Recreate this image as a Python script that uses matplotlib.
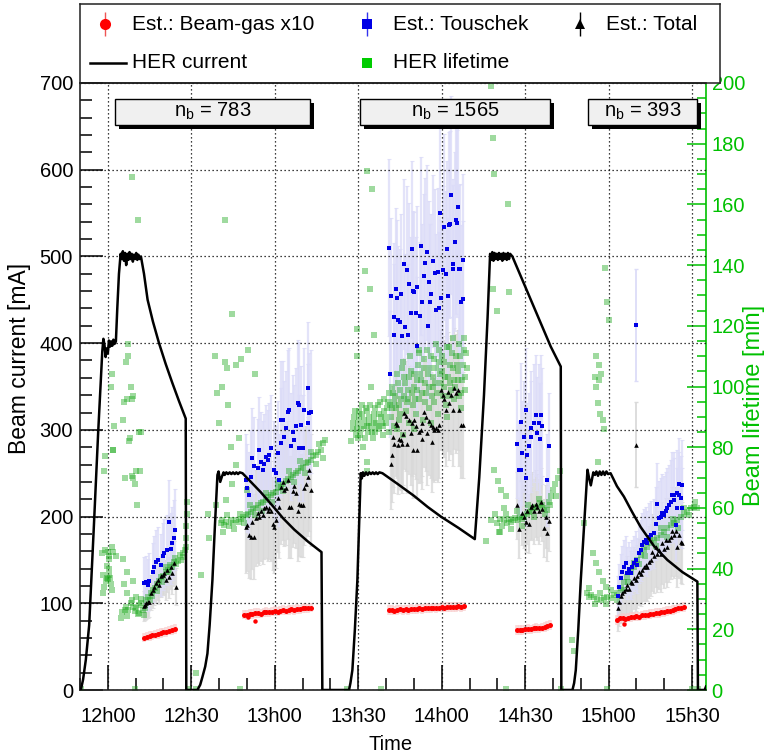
import matplotlib
matplotlib.use("Agg")
import matplotlib.pyplot as plt
from matplotlib.ticker import MultipleLocator, FuncFormatter
from matplotlib.patches import Rectangle
from matplotlib.transforms import Affine2D
import numpy as np

plt.rcParams['font.family'] = ['Liberation Sans', 'DejaVu Sans']
plt.rcParams['mathtext.fontset'] = 'custom'
plt.rcParams['mathtext.rm'] = 'Liberation Sans'
plt.rcParams['mathtext.it'] = 'Liberation Sans:italic'

GREEN = '#00c000'

# time is in minutes after 12h00

# HER beam current [mA]
cur_t = [-9.7, -8.9, -7.9, -6.7, -5.0, -3.5, -2.0, -1.6, -1.2, -0.8, -0.4, 0.0, 0.4, 0.8, 1.2, 1.6, 2.0, 2.4, 2.9,
         3.4, 4.0, 4.6, 5.0, 5.4, 5.8, 6.2, 6.6, 7.0, 7.4, 7.8, 8.2, 8.6, 9.0, 9.4, 9.8, 10.2, 10.6, 11.0, 11.4, 11.9,
         13.0, 14.3, 16.2, 18.4, 20.8, 23.2, 25.6, 28.0, 28.2,
         32.2, 33.2, 34.0, 35.0, 35.8, 36.6, 37.6, 38.5, 39.4, 39.8, 40.4, 41.0, 41.6, 42.0, 42.6, 43.2, 43.8, 44.4,
         45.0, 45.6, 46.2, 46.8, 47.4, 48.4, 52.0, 55.0, 59.6, 63.0, 67.0, 72.0, 76.8, 77.1,
         86.7, 87.2, 87.9, 88.8, 89.7, 90.3, 90.9, 91.3, 91.7, 92.2, 92.8, 93.4, 94.0, 94.6, 95.2, 95.8, 96.4, 97.0,
         97.6, 98.7, 104.0, 110.0, 115.0, 119.7, 126.0, 131.9, 133.5, 135.2, 136.5, 137.4, 137.8, 138.2, 138.6,
         139.0, 139.4, 139.8, 140.2, 140.6, 141.0, 141.4, 141.8, 142.2, 142.6, 143.0, 143.4, 143.8, 144.2, 144.6,
         145.4, 152.3, 159.2, 162.8, 163.0,
         167.0, 167.6, 168.2, 169.1, 170.0, 171.2, 172.4, 173.0, 173.6, 174.5, 175.1, 175.6, 176.2, 176.8, 177.4,
         178.0, 178.6, 179.2, 179.8, 180.7, 183.0, 185.5, 188.5, 191.5, 196.3, 201.1, 206.5, 211.9, 212.1,
         214.5, 215.0]
cur_v = [0, 12, 35, 75, 190, 295, 390, 405, 398, 384, 394, 388, 403, 396, 402, 397, 404, 399, 402,
         440, 480, 503, 497, 506, 495, 504, 490, 503, 496, 505, 497, 503, 494, 502, 497, 504, 496, 502, 497, 500,
         480, 450, 425, 400, 376, 354, 333, 313, 0,
         0, 6, 15, 27, 42, 75, 127, 190, 248, 252, 240, 246, 251, 248, 251, 249, 251, 249,
         251, 249, 251, 249, 251, 250, 238, 228, 211, 198, 185, 171, 159, 0,
         0, 8, 23, 70, 127, 190, 250, 244, 251, 247, 251, 248, 251, 249, 251, 249, 251, 249,
         251, 250, 238, 224, 211, 200, 187, 174, 245, 340, 430, 503, 496, 505, 495,
         504, 497, 503, 496, 504, 497, 503, 495, 504, 497, 503, 496, 504, 497, 503,
         500, 448, 396, 373, 0,
         0, 8, 23, 70, 127, 190, 254, 244, 236, 251, 248, 252, 247, 252, 248,
         252, 248, 252, 249, 250, 235, 223, 205, 188, 166, 150, 136, 125, 0,
         0, 4]

# Estimated beam-gas rate x10 [mA equiv.], one list per fill
bg_t = [
    [13, 14, 15, 16, 17, 18, 19, 20, 21, 22, 23, 24],
    [49, 50, 51, 52, 53, 54, 55, 56, 57, 58, 59, 60, 61, 62, 63, 64, 65, 66, 67, 68, 69, 70, 71, 72, 73],
    [101, 102, 103, 104, 105, 106, 107, 108, 109, 110, 111, 112, 113, 114, 115, 116, 117, 118, 119, 120,
     121, 122, 123, 124, 125, 126, 127, 128],
    [147, 148, 149, 150, 151, 152, 153, 154, 155, 156, 157, 158, 159],
    [183, 184, 185, 186, 187, 188, 189, 190, 191, 192, 193, 194, 195, 196, 197, 198, 199, 200, 201, 202,
     203, 204, 205, 206, 207],
]
bg_v = [
    [60.5, 61.5, 62.0, 63.0, 64.0, 64.5, 65.5, 66.5, 67.0, 68.5, 69.5, 70.5],
    [87.0, 86.5, 88.0, 87.5, 88.5, 89.0, 88.0, 89.5, 90.0, 89.5, 90.5, 91.0, 90.5, 91.5, 92.0, 91.5, 92.5,
     93.0, 92.5, 93.5, 93.0, 94.0, 94.5, 94.0, 95.0],
    [92.0, 92.5, 91.5, 92.0, 93.0, 92.5, 93.0, 92.0, 93.5, 93.0, 93.5, 94.0, 93.5, 94.0, 94.5, 94.0, 95.0,
     94.5, 95.0, 95.5, 95.0, 95.5, 96.0, 95.5, 96.0, 96.5, 96.0, 96.5],
    [69.0, 69.5, 69.0, 70.0, 70.5, 70.0, 71.0, 71.5, 71.0, 72.0, 72.5, 73.5, 75.0],
    [81.0, 82.5, 83.0, 82.0, 83.5, 84.0, 84.5, 85.0, 84.5, 86.0, 86.5, 87.0, 87.5, 88.0, 88.5, 89.0, 89.5,
     90.0, 91.0, 91.5, 92.0, 93.0, 94.0, 95.0, 96.0],
]
bg_outlier_t = [50.5, 52.8, 185.5]
bg_outlier_v = [84, 79, 76]
bg_err = 5.5

# Estimated Touschek contribution
tou_t = [
    [12.9, 13.7, 14.3, 14.8, 16.1, 16.7, 17.3, 17.9, 19.0, 19.7, 20.2, 21.4, 22.0, 22.6, 23.2, 23.8, 24.2],
    [49.6, 50.2, 50.7, 51.4, 52.0, 52.6, 53.8, 54.4, 55.0, 55.6, 56.2, 56.8, 57.4, 58.0, 58.6, 59.8, 60.4,
     61.0, 61.6, 62.2, 62.2, 62.8, 63.3, 64.0, 64.6, 65.1, 65.8, 66.4, 66.9, 67.6, 68.2, 68.7, 68.7, 69.4,
     70.0, 70.5, 71.8, 71.8, 72.3, 72.9],
    [101.1, 101.4, 101.9, 102.7, 102.7, 103.5, 103.8, 104.3, 105.0, 105.3, 105.9, 106.5, 106.7, 107.4,
     107.9, 108.3, 108.9, 109.5, 109.8, 110.1, 110.7, 111.0, 111.3, 112.2, 112.5, 113.1, 113.7, 114.0,
     114.6, 115.1, 115.5, 115.8, 116.3, 116.7, 117.5, 117.9, 118.5, 119.0, 119.4, 119.9, 120.3, 120.8,
     121.5, 121.8, 122.3, 122.6, 123.0, 123.5, 123.9, 124.2, 124.7, 125.0, 125.4, 125.7, 126.2, 126.6,
     127.1, 127.5, 127.8],
    [147.2, 147.8, 148.4, 148.4, 149.0, 149.6, 150.2, 150.2, 150.8, 151.4, 152.0, 152.2, 153.0, 153.8,
     154.2, 155.0, 155.4, 155.8, 156.2, 158.0, 158.6],
    [183.2, 183.8, 184.3, 184.9, 185.5, 186.1, 186.7, 187.3, 187.9, 188.5, 189.1, 189.7, 190.3, 190.9,
     191.5, 192.1, 192.7, 193.3, 193.9, 194.5, 195.1, 196.3, 196.9, 197.5, 198.1, 198.7, 199.3, 199.9,
     200.5, 201.1, 201.7, 202.3, 202.9, 203.5, 203.5, 204.1, 204.7, 204.7, 205.3, 205.3, 205.9, 206.5, 206.5],
]
tou_v = [
    [123, 124, 121, 126, 136, 142, 148, 150, 144, 154, 158, 161, 194, 163, 169, 175, 185],
    [242, 233, 225, 246, 267, 258, 256, 277, 263, 254, 261, 269, 265, 271, 279, 254, 250, 273, 242, 285,
     311, 311, 292, 302, 321, 323, 281, 298, 288, 304, 331, 329, 279, 306, 279, 323, 308, 348, 319, 321],
    [510, 364, 454, 430, 409, 463, 452, 427, 424, 457, 408, 491, 419, 484, 409, 468, 435, 508, 460, 459,
     435, 465, 397, 431, 512, 448, 477, 492, 505, 420, 470, 448, 457, 495, 481, 438, 482, 440, 550, 452,
     484, 534, 480, 508, 454, 536, 537, 571, 491, 485, 517, 542, 538, 557, 485, 486, 447, 451, 496],
    [284, 254, 254, 309, 273, 292, 323, 244, 271, 281, 302, 292, 308, 317, 296, 308, 290, 317, 304, 242, 281],
    [108, 119, 129, 136, 142, 146, 135, 140, 135, 142, 146, 150, 144, 158, 161, 167, 171, 173, 169, 177,
     179, 181, 192, 215, 198, 200, 204, 202, 206, 210, 213, 217, 225, 219, 225, 190, 210, 227, 225, 238,
     221, 210, 236],
]
tou_rel_err = [0.25, 0.22, 0.20, 0.22, 0.22]
tou_outlier = (189.7, 421, 65)

# Estimated total
tot_t = [
    [12.9, 13.3, 13.7, 14.3, 14.8, 15.5, 16.1, 16.7, 17.2, 17.9, 18.4, 19.0, 19.7, 20.2, 20.8, 21.4, 22.0,
     22.6, 23.2, 23.8, 24.4],
    [49.6, 50.2, 50.8, 51.4, 52.0, 52.6, 53.2, 53.8, 54.4, 55.0, 55.6, 56.2, 56.8, 57.4, 58.0, 58.6, 59.2,
     59.8, 60.4, 61.0, 61.6, 62.2, 62.8, 63.3, 64.0, 64.6, 65.1, 65.8, 66.4, 66.9, 67.6, 68.2, 68.7, 69.4,
     70.0, 70.5, 71.1, 71.8, 72.3, 72.9],
    [101.7, 102.3, 102.6, 102.9, 103.5, 104.1, 104.3, 104.7, 105.3, 105.9, 106.0, 106.5, 107.1, 107.7,
     108.3, 108.9, 109.5, 109.8, 110.1, 110.7, 111.3, 111.9, 112.5, 112.9, 113.1, 113.7, 114.3, 114.9,
     115.5, 116.1, 116.4, 116.7, 117.3, 117.9, 118.5, 119.0, 119.7, 120.3, 120.8, 121.5, 122.1, 122.6,
     123.2, 123.9, 124.4, 125.0, 125.7, 126.2, 126.8, 127.5],
    [147.2, 147.8, 149.0, 149.6, 150.2, 150.8, 151.4, 152.0, 152.6, 153.2, 153.8, 154.4, 155.0, 155.6,
     156.2, 156.8, 157.4, 158.0, 158.6],
    [183.2, 183.8, 184.3, 184.9, 185.5, 186.1, 186.7, 187.3, 187.9, 188.5, 189.1, 189.7, 190.3, 190.9,
     191.5, 192.1, 192.7, 193.3, 193.9, 194.5, 195.1, 195.7, 196.3, 196.9, 197.5, 198.1, 198.7, 199.3,
     199.9, 200.5, 201.1, 201.7, 202.3, 202.9, 203.5, 204.1, 204.7, 205.3, 205.9, 206.5],
]
tot_v = [
    [97, 98, 100, 101, 102, 112, 115, 119, 123, 127, 121, 131, 133, 135, 127, 138, 130, 142, 135, 146, 119],
    [188, 190, 179, 177, 194, 177, 198, 204, 200, 206, 202, 210, 211, 206, 210, 206, 192, 188, 196, 221,
     211, 234, 240, 231, 233, 242, 211, 211, 229, 235, 227, 206, 215, 213, 213, 233, 238, 246, 254, 231],
    [261, 271, 292, 284, 308, 306, 283, 290, 288, 284, 295, 319, 316, 284, 311, 296, 308, 277, 311, 304,
     277, 298, 300, 290, 308, 321, 315, 296, 310, 306, 286, 303, 300, 302, 300, 306, 346, 340, 336, 323,
     344, 331, 340, 323, 348, 342, 346, 323, 306, 306],
    [213, 186, 204, 200, 194, 206, 192, 211, 213, 206, 215, 211, 206, 217, 209, 187, 200, 181, 195],
    [94, 102, 108, 112, 114, 117, 121, 117, 125, 123, 129, 127, 131, 136, 134, 138, 142, 144, 142, 148,
     150, 159, 155, 165, 157, 161, 157, 169, 163, 173, 165, 173, 177, 183, 179, 183, 165, 179, 171, 169],
]
tot_rel_err = [0.18, 0.28, 0.20, 0.18, 0.28]
tot_outlier = (189.7, 283, 49)

# HER lifetime [min]: (time, lifetime)
lifetime_pts = [
    (-9.7, 0.3), (9.7, 0.3), (28.7, 0.3), (31.6, 0.3), (47.4, 0.3), (85.8, 0.3), (98.1, 0.3), (143.0, 0.3),
    (162.8, 0.3), (179.5, 0.3), (210.0, 0.3), (212.2, 0.3), (31.6, 5.6), (167.0, 16.5), (167.6, 13.0),
    # fill 1
    (-1.6, 32), (-1.2, 34), (-0.8, 36), (-0.4, 37), (0.0, 36.5), (0.4, 38), (0.8, 37), (1.2, 35), (1.6, 33),
    (-1.9, 38), (-0.2, 41), (0.6, 40), (-2.2, 45), (-1.0, 46), (0.3, 44), (1.5, 47),
    (5.2, 25.8), (6.0, 26.5), (6.6, 27.4), (7.4, 26.2), (8.3, 28.6), (9.0, 27.5), (9.6, 26.0), (10.3, 26.9),
    (11.2, 28.0), (11.9, 28.6), (12.5, 26.5), (13.2, 27.0), (13.8, 29.7), (14.5, 30.5), (15.5, 32.0),
    (16.3, 33.0), (16.9, 33.5), (17.8, 35.0), (18.5, 36.0), (19.0, 37.3), (19.8, 37.5), (20.8, 38.8),
    (21.5, 39.5), (22.4, 41.2), (23.0, 40.5), (23.8, 42.3), (24.6, 41.5), (25.2, 42.5), (26.2, 42.9),
    (27.0, 43.9), (27.8, 46.1), (28.1, 50.0), (28.2, 54.0), (28.3, 58.0), (28.3, 62.0), (28.0, 47.2),
    (7.0, 24.5), (8.8, 29.5), (10.8, 25.0), (12.0, 30.0), (13.0, 24.8), (15.0, 29.5), (16.0, 31.0),
    (17.5, 32.5), (19.5, 35.5), (21.0, 40.5), (22.0, 39.0), (24.0, 43.5), (25.8, 44.5), (27.2, 45.0),
    (1.4, 104), (1.1, 100), (6.5, 108), (7.2, 110), (8.3, 100), (7.0, 96), (8.8, 96), (5.9, 95), (5.3, 89),
    (2.2, 87), (11.9, 85), (8.1, 83), (-0.9, 77), (2.0, 79), (-1.3, 72), (10.1, 72), (11.5, 72), (8.6, 70.5),
    (6.2, 70), (9.8, 68), (8.6, 169), (11.0, 155), (42.0, 155), (44.7, 124), (7.2, 114), (42.2, 108),
    (43.0, 106), (46.0, 107), (8.9, 97), (7.7, 82), (11.2, 85), (8.9, 70), (10.5, 61), (1.7, 79),
    (-0.1, 45.6), (1.7, 45.6), (0.5, 43), (2.9, 44), (5.3, 43), (7.0, 39), (5.9, 35), (8.9, 36), (7.0, 32),
    (10.1, 30.7), (4.7, 23.6), (11.2, 25.3),
    # fill 2
    (40.6, 55), (41.2, 56), (41.8, 54.5), (42.4, 55.5), (43.5, 54), (44.2, 56), (45.0, 55), (46.0, 56),
    (47.0, 55.5), (47.8, 56.5), (48.7, 57), (49.6, 57.5), (50.5, 58), (51.4, 58.5), (52.3, 59.5), (53.2, 60),
    (54.1, 61), (55.0, 61.5), (55.9, 62), (56.8, 62.6), (57.7, 63.5), (58.6, 64.3), (59.5, 65), (60.4, 65.3),
    (61.3, 66.5), (62.2, 67), (63.1, 68), (64.0, 69), (64.9, 69.5), (65.8, 70.3), (66.7, 71), (67.6, 71.4),
    (68.5, 72), (69.4, 73), (70.3, 73.5), (71.1, 74.7), (72.0, 75), (72.9, 75.8), (73.8, 77), (74.7, 77.4),
    (75.6, 78.5), (76.5, 79), (77.3, 81.3), (78.0, 82.4),
    (41.5, 52), (43.0, 57.5), (45.5, 53), (47.5, 58), (49.0, 55), (51.0, 61), (53.0, 57.5), (55.5, 59),
    (57.0, 65), (59.0, 62), (61.0, 68.5), (63.0, 65.5), (65.0, 72), (67.0, 68.5), (69.0, 75.5), (71.0, 71.5),
    (73.0, 78.5), (75.0, 74.5), (76.0, 81), (77.5, 76.5),
    (39.4, 98), (41.2, 100), (43.1, 94), (44.2, 80), (47.0, 83), (44.8, 68), (42.4, 62.6), (39.0, 61),
    (38.5, 110), (47.8, 109), (50.5, 112), (53.0, 104), (40.0, 88), (36.0, 58), (36.5, 50), (46.0, 74),
    (50.0, 66), (33.5, 38),
    # fill 3
    (87.5, 82), (88.0, 86), (88.6, 90), (89.2, 84), (89.8, 88), (90.4, 92), (91.0, 86), (91.6, 80), (92.2, 89),
    (92.8, 93), (93.4, 85), (94.0, 90), (94.6, 87), (95.2, 83), (95.8, 91), (96.4, 88), (97.0, 94), (97.6, 86),
    (98.2, 90), (98.8, 84), (99.4, 92), (100.0, 88), (100.6, 95), (101.2, 85), (101.8, 90), (102.4, 98),
    (103.0, 87), (103.6, 93), (104.2, 101), (104.8, 89), (105.4, 96), (106.0, 84), (106.6, 103), (107.2, 92),
    (107.8, 99), (108.4, 88), (109.0, 105), (109.6, 94), (110.2, 100), (110.8, 91), (111.4, 107), (112.0, 96),
    (112.6, 102), (113.2, 89), (113.8, 109), (114.4, 98), (115.0, 104), (115.6, 93), (116.2, 110),
    (116.8, 100), (117.4, 95), (118.0, 106), (118.6, 91), (119.2, 112), (119.8, 101), (120.4, 97),
    (121.0, 108), (121.6, 94), (122.2, 103), (122.8, 113), (123.4, 99), (124.0, 106), (124.6, 96),
    (125.2, 110), (125.8, 102), (126.4, 114), (127.0, 98), (127.6, 107), (128.2, 103), (128.8, 111),
    (102, 93), (105, 91), (108, 96), (111, 99), (114, 101), (117, 103), (120, 105), (123, 101), (126, 105),
    (90, 83), (93, 87), (96, 85), (99, 87), (104, 86), (110, 86), (116, 88), (122, 90), (127, 93),
    (106, 108), (112, 111), (118, 114), (124, 116), (128, 116),
    (88.3, 88), (89.0, 92), (89.5, 86), (90.1, 90), (90.7, 84), (91.3, 91), (91.9, 87), (92.5, 83), (93.1, 92),
    (93.7, 88), (94.3, 94), (94.9, 85), (95.5, 89), (96.1, 93), (96.7, 87), (97.3, 91), (97.9, 95), (98.5, 88),
    (99.1, 96), (99.7, 90), (100.3, 93), (100.9, 98), (101.5, 94), (102.1, 100), (102.7, 95), (103.3, 97),
    (103.9, 104), (104.5, 94), (105.1, 99), (105.7, 106), (106.3, 97), (106.9, 101), (107.5, 95), (108.1, 103),
    (108.7, 110), (109.3, 98), (109.9, 104), (110.5, 96), (111.1, 102), (111.7, 112), (112.3, 104),
    (112.9, 98), (113.5, 106), (114.1, 95), (114.7, 112), (115.3, 100), (115.9, 106), (116.5, 97),
    (117.1, 109), (117.7, 101), (118.3, 98), (118.9, 108), (119.5, 104), (120.1, 110), (120.7, 100),
    (121.3, 103), (121.9, 113), (122.5, 97), (123.1, 107), (123.7, 111), (124.3, 102), (124.9, 100),
    (125.5, 107), (126.1, 97), (126.7, 110), (127.3, 102), (127.9, 112), (128.5, 99), (129.0, 106),
    (89.6, 119), (92.5, 138), (94.3, 132), (95.5, 117), (89.6, 110), (95.0, 165), (93.2, 171), (137.6, 199),
    (138.3, 182), (138.9, 170), (143.8, 160), (138.3, 132), (144.2, 131), (139.9, 125), (91.5, 94),
    (94.5, 100), (93.3, 75), (93.0, 72),
    # fill 4
    (140.0, 55), (140.8, 56.5), (141.6, 54), (142.4, 56), (143.3, 55), (144.1, 56.5), (144.9, 55.5),
    (145.7, 56), (146.5, 56.6), (147.3, 56), (148.1, 57), (148.9, 56.5), (149.7, 57), (150.5, 58),
    (151.3, 58.5), (152.1, 59), (152.9, 60), (153.7, 60.4), (154.5, 60), (155.3, 61.5), (156.1, 61),
    (156.9, 60), (157.7, 59.3), (158.5, 62), (159.3, 64), (160.1, 66), (160.9, 68), (161.7, 70), (162.4, 72),
    (141, 52), (143, 58), (145, 53), (147, 59), (149, 54), (151, 61), (153, 57), (155, 63), (157, 58),
    (159, 61), (161, 64),
    (138.9, 72.5), (140.1, 69), (141.3, 66), (142.4, 60), (140.6, 52), (137.6, 56), (139.3, 58), (136.0, 49),
    (143.0, 64),
    # fill 5
    (172.4, 31.9), (173.0, 30.5), (173.6, 31.2), (174.6, 30.7), (175.8, 30), (177.1, 29.7), (178.3, 30.2),
    (179.5, 30.7), (180.7, 30.2), (181.9, 31.3), (182.9, 31.9), (184.3, 33.5), (185.5, 35.7), (186.7, 37.3),
    (187.9, 39), (189.1, 40.6), (190.3, 42.9), (191.5, 44.5), (192.7, 46.1), (193.9, 47.2), (195.1, 48.3),
    (196.3, 49.4), (197.5, 50), (198.7, 51), (199.9, 52), (201.1, 53.3), (202.3, 54.4), (203.5, 55),
    (204.7, 56), (205.9, 57), (207.0, 58), (208.3, 58.8), (209.5, 60), (210.7, 60.4), (211.9, 60),
    (173, 33.5), (175, 28.5), (177, 32), (179, 28.5), (181, 33), (183, 29.8), (185, 33), (187, 35.5),
    (189, 42), (191, 41.5), (193, 44), (195, 50), (197, 47.5), (199, 53.5), (201, 50.5), (203, 56.5),
    (205, 53.5), (207, 60), (209, 57.5), (211, 62),
    (174.3, 45), (175.5, 42), (176.5, 39), (177.8, 36), (179.0, 34), (175.5, 110), (176.7, 107), (177.2, 104),
    (176.5, 102), (175.2, 103), (175.5, 100), (176.1, 94.5), (176.9, 91), (177.8, 89), (178.4, 86),
    (176.3, 75), (178.8, 139), (179.5, 128), (180.1, 122), (171.0, 55),
]

# bunch numbers of the fills
nb_labels = ['783', '1565', '393']

life_t, life_v = np.array(lifetime_pts).T
LIFE_MAX = 200.0
CUR_MAX = 700.0

fig = plt.figure(figsize=(7.67, 7.55), dpi=100)
L, B, W, H = 80 / 767, 1 - 690 / 755, 626 / 767, 607 / 755
ax = fig.add_axes([L, B, W, H])
ax2 = ax.twinx()
ax.set_zorder(ax2.get_zorder() + 1)
ax.patch.set_visible(False)
ax2.set_ylim(0, LIFE_MAX)

# error bars first
for k in range(5):
    tt = np.array(tot_t[k]); tv = np.array(tot_v[k])
    ax.errorbar(tt, tv, yerr=tv * tot_rel_err[k], fmt='none', ecolor='#d9d9d9', alpha=0.8, lw=1.6,
                capsize=1.2, capthick=0.8, zorder=1)
for k in range(5):
    tt = np.array(tou_t[k]); tv = np.array(tou_v[k])
    ax.errorbar(tt, tv, yerr=tv * tou_rel_err[k], fmt='none', ecolor='#dcdcf8', alpha=0.8, lw=1.6,
                capsize=1.2, capthick=0.8, zorder=1)
ax.errorbar([tot_outlier[0]], [tot_outlier[1]], yerr=[tot_outlier[2]], fmt='none', ecolor='#dadada', lw=1.3,
            capsize=1.2, zorder=1)
ax.errorbar([tou_outlier[0]], [tou_outlier[1]], yerr=[tou_outlier[2]], fmt='none', ecolor='#dcdcf8', lw=1.3,
            capsize=1.2, zorder=1)
for k in range(5):
    ax.errorbar(bg_t[k], bg_v[k], yerr=bg_err, fmt='none', ecolor='#f9cccc', alpha=0.7, lw=2.6, zorder=1)

# lifetime drawn in the lifetime scale of the right axis, above the error bars
life_tr = Affine2D().scale(1, CUR_MAX / LIFE_MAX) + ax.transData
ax.plot(life_t, life_v, 's', color='#1aa81a', alpha=0.42, ms=3.8, mew=0, transform=life_tr, zorder=2)

# markers
for k in range(5):
    ax.plot(bg_t[k], bg_v[k], 'o', color='red', ms=3.6, mew=0, zorder=3)
ax.plot(bg_outlier_t, bg_outlier_v, 'o', color='red', ms=3.2, mew=0, zorder=3)
for k in range(5):
    ax.plot(tot_t[k], tot_v[k], '^', color='black', ms=3.3, mew=0, zorder=4)
ax.plot([tot_outlier[0]], [tot_outlier[1]], '^', color='black', ms=3.3, mew=0, zorder=4)
for k in range(5):
    ax.plot(tou_t[k], tou_v[k], 's', color='#0000e6', ms=3.4, mew=0, zorder=5)
ax.plot([tou_outlier[0]], [tou_outlier[1]], 's', color='#0000e6', ms=3.4, mew=0, zorder=5)

ax.plot(cur_t, cur_v, color='black', lw=1.8, zorder=6)

ax.set_xlim(-10, 215)
ax.set_ylim(0, CUR_MAX)

# axes style
ax.xaxis.set_major_locator(MultipleLocator(30))
ax.xaxis.set_minor_locator(MultipleLocator(10))
ax.xaxis.set_major_formatter(FuncFormatter(lambda x, pos: f"{12 + int(x) // 60}h{int(x) % 60:02d}"))
ax.yaxis.set_major_locator(MultipleLocator(100))
ax.yaxis.set_minor_locator(MultipleLocator(20))
ax.tick_params(axis='x', which='major', direction='in', length=18, width=1.1, pad=12, labelsize=14.5, top=False)
ax.tick_params(axis='x', which='minor', direction='in', length=8.5, width=1.1, top=False)
ax.tick_params(axis='y', which='major', direction='in', length=16.5, width=1.1, pad=5, labelsize=14.5, right=False)
ax.tick_params(axis='y', which='minor', direction='in', length=8.5, width=1.1, right=False)
ax.grid(which='major', color='black', ls=(0, (1, 2.2)), lw=0.9)

ax2.yaxis.set_major_locator(MultipleLocator(20))
ax2.yaxis.set_minor_locator(MultipleLocator(5))
ax2.tick_params(axis='y', which='major', direction='in', length=13.5, width=1.1, colors=GREEN, pad=4,
                labelsize=14.5)
ax2.tick_params(axis='y', which='minor', direction='in', length=6.5, width=1.1, colors=GREEN)

for s in ['left', 'bottom', 'top']:
    ax.spines[s].set_linewidth(1.2)
    ax.spines[s].set_color('#222222')
ax.spines['right'].set_visible(False)
for s in ['left', 'bottom', 'top']:
    ax2.spines[s].set_visible(False)
ax2.spines['right'].set_color(GREEN)
ax2.spines['right'].set_linewidth(1.2)

fig.text(20 / 767, 1 - 358 / 755, 'Beam current [mA]', rotation=90, ha='center', va='center', fontsize=16.5)
fig.text(754 / 767, 1 - 405 / 755, 'Beam lifetime [min]', rotation=90, ha='center', va='center', fontsize=17,
         color=GREEN)
fig.text(391 / 767, 1 - 745 / 755, 'Time', ha='center', va='center', fontsize=14.5)

# n_b boxes (axes fraction)
boxes = [(0.056, 0.367), (0.447, 0.751), (0.811, 0.986)]
for (x0, x1), lab in zip(boxes, nb_labels):
    y0, y1 = 0.931, 0.974
    ax.add_patch(Rectangle((x0 + 0.0065, y0 - 0.007), x1 - x0, y1 - y0, transform=ax.transAxes,
                           facecolor='black', edgecolor='none', zorder=7, clip_on=False))
    ax.add_patch(Rectangle((x0, y0), x1 - x0, y1 - y0, transform=ax.transAxes, facecolor='#f0f0f0',
                           edgecolor='black', lw=1, zorder=8, clip_on=False))
    ax.text((x0 + x1) / 2, (y0 + y1) / 2, r'n$_{\mathrm{b}}$ = ' + lab, transform=ax.transAxes,
            ha='center', va='center', fontsize=14.5, zorder=9)

# legend box
lax = fig.add_axes([80 / 767, 1 - 83 / 755, 640 / 767, 79 / 755])
lax.set_xlim(0, 640)
lax.set_ylim(79, 0)
lax.set_xticks([])
lax.set_yticks([])
for s in lax.spines.values():
    s.set_linewidth(1.1)
    s.set_color('#222222')
r1, r2 = 20, 59
lax.errorbar([25], [r1], yerr=[12], fmt='o', color='red', ecolor='#ee5555', ms=8, mew=0, lw=1, capsize=3)
lax.errorbar([287], [r1], yerr=[12], fmt='s', color='#0000e6', ecolor='#3333ee', ms=6.5, mew=0, lw=1, capsize=3)
lax.errorbar([500], [r1], yerr=[12], fmt='^', color='black', ecolor='black', ms=7, mew=0, lw=1, capsize=3)
lax.plot([10, 46], [r2, r2], color='black', lw=1.8)
lax.plot([287], [r2], 's', color='#00cc00', ms=6.5, mew=0)
lax.text(52, r1, 'Est.: Beam-gas x10', va='center', fontsize=15)
lax.text(313, r1, 'Est.: Touschek', va='center', fontsize=15)
lax.text(526, r1, 'Est.: Total', va='center', fontsize=15)
lax.text(52, r2, 'HER current', va='center', fontsize=15)
lax.text(313, r2, 'HER lifetime', va='center', fontsize=15)

fig.savefig('out.png', dpi=100)
